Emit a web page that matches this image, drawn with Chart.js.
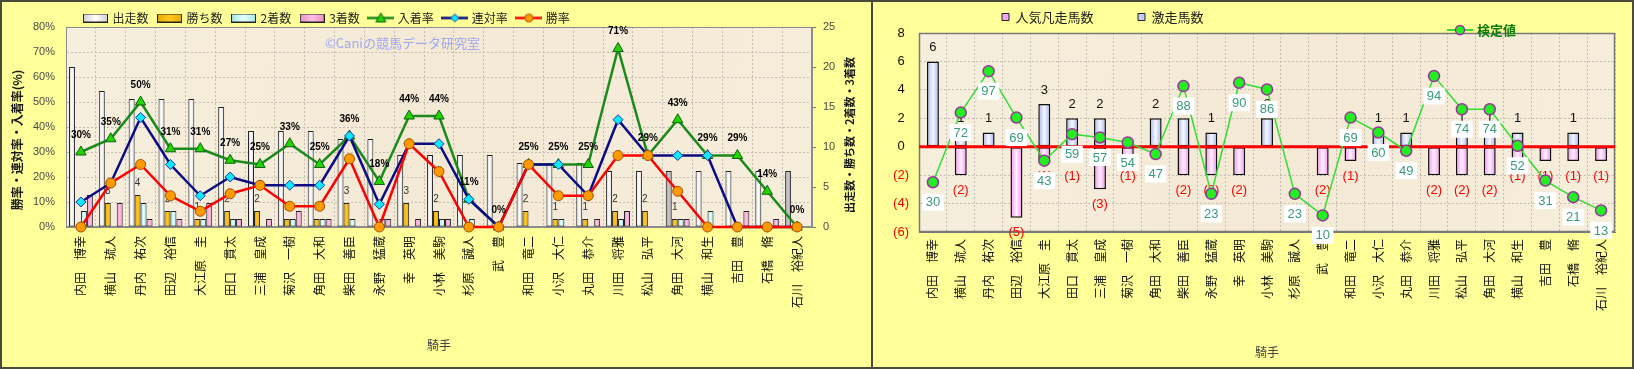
<!DOCTYPE html>
<html lang="ja">
<head>
<meta charset="utf-8">
<title>騎手成績</title>
<script src="https://cdn.jsdelivr.net/npm/chart.js@4.4.1/dist/chart.umd.min.js"></script>
<style>
  html, body { margin:0; padding:0; width:1634px; height:369px; overflow:hidden; background:#ffffff; }
  .panel { position:absolute; top:0; height:369px; box-sizing:border-box; background:#FFFF99; border:2px solid #4a4a3a; }
  #bg1 { left:0; width:874px; }
  #bg2 { left:871px; width:763px; }
  canvas { position:absolute; top:0; }
  #c1 { left:0; }
  #c2 { left:872px; }
</style>
</head>
<body>
<div class="panel" id="bg1"></div>
<div class="panel" id="bg2"></div>
<canvas id="c1" width="872" height="369"></canvas>
<canvas id="c2" width="762" height="369"></canvas>
<script>
// ---------------- DATA ----------------
const jockeys = ['内田　博幸','横山　琉人','丹内　祐次','田辺　裕信','大江原　圭','田口　貫太','三浦　皇成','菊沢　一樹','角田　大和','柴田　善臣','永野　猛蔵','幸　英明','小林　美駒','杉原　誠人','武　豊','和田　竜二','小沢　大仁','丸田　恭介','川田　将雅','松山　弘平','角田　大河','横山　和生','吉田　豊','石橋　脩','石川　裕紀人'];
const starts   = [20,17,16,16,16,15,12,12,12,11,11,9,9,9,9,8,8,8,7,7,7,7,7,7,7];
const wins     = [0,3,4,2,1,2,2,1,1,3,0,3,2,0,0,2,1,1,2,2,1,0,0,0,0];
const seconds  = [2,0,3,2,1,1,0,1,1,1,1,0,1,1,0,0,1,0,1,0,1,2,0,0,0];
const thirds   = [4,3,1,1,3,1,1,2,1,0,1,1,1,0,0,0,0,1,2,0,1,0,2,1,0];
const placeRate    = [30,35.3,50,31.3,31.3,26.7,25,33.3,25,36.4,18.2,44.4,44.4,11.1,0,25,25,25,71.4,28.6,42.9,28.6,28.6,14.3,0];
const quinellaRate = [10,17.6,43.8,25,12.5,20,16.7,16.7,16.7,36.4,9.1,33.3,33.3,11.1,0,25,25,12.5,42.9,28.6,28.6,28.6,0,0,0];
const winRate      = [0,17.6,25,12.5,6.3,13.3,16.7,8.3,8.3,27.3,0,33.3,22.2,0,0,25,12.5,12.5,28.6,28.6,14.3,0,0,0,0];
const placeLabels  = ['30%','35%','50%','31%','31%','27%','25%','33%','25%','36%','18%','44%','44%','11%','0%','25%','25%','25%','71%','29%','43%','29%','29%','14%','0%'];
const rateTicks  = ['0%','10%','20%','30%','40%','50%','60%','70%','80%'];
const countTicks = ['0','5','10','15','20','25'];

const hotRuns   = [6,1,1,0,3,2,2,0,2,2,1,0,2,0,0,0,1,1,0,1,1,1,0,1,0];
const favFlops  = [0,-2,0,-5,-1,-1,-3,-1,0,-2,-2,-2,0,0,-2,-1,0,0,-2,-2,-2,-1,-1,-1,-1];
const testValue = [30,72,97,69,43,59,57,54,47,88,23,90,86,23,10,69,60,49,94,74,74,52,31,21,13];
const diffTicks = ['(6)','(4)','(2)','0','2','4','6','8'];

// ---------------- STYLE ----------------
const LATIN = "'Liberation Sans', Arial, 'Noto Sans CJK JP', sans-serif";
const JP = "'Noto Sans CJK JP', 'Noto Sans CJK SC', sans-serif";
const GRID = '#c4beb4';
const grayStartIdx = [20, 24];

function icon(w, h, draw) { const c = document.createElement('canvas'); c.width = w; c.height = h; draw(c.getContext('2d'), w, h); return c; }
function barIcon(edge, mid) {
  return icon(25, 9, (g, w, h) => {
    const gr = g.createLinearGradient(0, 0, w, 0);
    gr.addColorStop(0, edge); gr.addColorStop(0.5, mid); gr.addColorStop(1, edge);
    g.fillStyle = gr; g.fillRect(0.5, 0.5, w - 1, h - 1);
    g.strokeStyle = '#222'; g.lineWidth = 1; g.strokeRect(0.5, 0.5, w - 1, h - 1);
  });
}
function lineIcon(color, marker) {
  return icon(27, 13, (g, w, h) => {
    g.strokeStyle = color; g.lineWidth = 2.5; g.beginPath(); g.moveTo(0, h / 2); g.lineTo(w, h / 2); g.stroke();
    marker(g, w / 2, h / 2);
  });
}
const triMark = (g, x, y) => { g.beginPath(); g.moveTo(x, y - 5); g.lineTo(x + 5, y + 4); g.lineTo(x - 5, y + 4); g.closePath(); g.fillStyle = '#22D400'; g.fill(); g.strokeStyle = '#0f5f0f'; g.lineWidth = 1; g.stroke(); };
const diaMark = (g, x, y) => { g.beginPath(); g.moveTo(x, y - 4); g.lineTo(x + 4, y); g.lineTo(x, y + 4); g.lineTo(x - 4, y); g.closePath(); g.fillStyle = '#10E8FF'; g.fill(); g.strokeStyle = '#1a3a9a'; g.lineWidth = 1; g.stroke(); };
const cirMark = (g, x, y) => { g.beginPath(); g.arc(x, y, 4, 0, Math.PI * 2); g.fillStyle = '#FF9A00'; g.fill(); g.strokeStyle = '#A34F00'; g.lineWidth = 1; g.stroke(); };

const icons1 = [
  barIcon('#cfcfcf', '#ffffff'),
  barIcon('#E8AA00', '#FFC820'),
  barIcon('#A8E8E8', '#E4FFFF'),
  barIcon('#E890C4', '#FFC0E4'),
  lineIcon('#1B8A1B', triMark),
  lineIcon('#0B0B84', diaMark),
  lineIcon('#FF0000', cirMark)
];

function gradFill(edge, mid, kind, altEdge, altMid) {
  return (c) => {
    const isAlt = altEdge && c.type === 'data' && grayStartIdx.includes(c.dataIndex);
    const e = isAlt ? altEdge : edge, m = isAlt ? altMid : mid;
    if (c.type !== 'data') return m;
    const ch = c.chart, xs = ch.scales.x;
    if (!xs || !ch.chartArea) return m;
    const n = ch.data.labels.length;
    const cat = xs.width / n;
    const cx = xs.getPixelForValue(c.dataIndex);
    let x0, w;
    if (kind === 'group') { w = cat * 0.8 / 4; x0 = cx - 2 * w + c.datasetIndex * w; }
    else { w = cat * 0.43; x0 = cx - w / 2; }
    const g = ch.ctx.createLinearGradient(x0, 0, x0 + w, 0);
    g.addColorStop(0, e); g.addColorStop(0.5, m); g.addColorStop(1, e);
    return g;
  };
}

// ---------------- PLUGINS ----------------
const legendPos = {
  id: 'legendPos',
  afterLayout(chart, args, opts) {
    const lg = chart.legend; if (!lg) return;
    const pad = lg.options.labels.padding;
    lg.left = opts.x - pad; lg.right = lg.left + 2000;
    lg.top = opts.y - pad - opts.fs / 2; lg.bottom = opts.y + 20;
  }
};
const plotBg = {
  id: 'plotBg',
  beforeDraw(chart, args, opts) {
    const { ctx, chartArea: a } = chart;
    ctx.save();
    const g = ctx.createLinearGradient(a.left, a.top, a.right, a.bottom);
    g.addColorStop(0, '#F7EFDE'); g.addColorStop(0.5, '#F3E9D5'); g.addColorStop(1, '#F6EDDB');
    ctx.fillStyle = g;
    ctx.fillRect(a.left, a.top, a.width, a.height);
    ctx.restore();
  },
  beforeDatasetsDraw(chart, args, opts) {
    const { ctx, chartArea: a } = chart;
    ctx.save();
    ctx.strokeStyle = opts.frame || '#8c8c8c'; ctx.lineWidth = opts.frameWidth || 1;
    ctx.strokeRect(a.left + 0.5, a.top + 0.5, a.width - 1, a.height - 1);
    if (opts.watermark) {
      ctx.font = '13px ' + JP; ctx.fillStyle = '#9DA8F5'; ctx.textAlign = 'left'; ctx.textBaseline = 'middle';
      ctx.fillText(opts.watermark, 325, 43);
    }
    ctx.restore();
  }
};
const leftLabels = {
  id: 'leftLabels',
  afterDatasetDraw(chart, args) {
    if (args.index !== 0) return;
    const ctx = chart.ctx; const meta = chart.getDatasetMeta(1);
    ctx.save(); ctx.font = '10px ' + LATIN; ctx.fillStyle = '#333'; ctx.textAlign = 'center'; ctx.textBaseline = 'middle';
    meta.data.forEach((el, i) => { if (wins[i] > 0) ctx.fillText(String(wins[i]), el.x, el.y - 12); });
    ctx.restore();
  },
  afterDatasetsDraw(chart) {
    const ctx = chart.ctx; const meta = chart.getDatasetMeta(4);
    ctx.save(); ctx.font = 'bold 10px ' + LATIN; ctx.fillStyle = '#000'; ctx.textAlign = 'center'; ctx.textBaseline = 'middle';
    meta.data.forEach((el, i) => ctx.fillText(placeLabels[i], el.x, el.y - 17));
    ctx.restore();
  },
  afterDraw(chart) {
    const ctx = chart.ctx;
    ctx.save(); ctx.textAlign = 'center'; ctx.textBaseline = 'middle'; ctx.fillStyle = '#1a1a1a';
    ctx.font = 'bold 12px ' + JP;
    ctx.translate(17, 140); ctx.rotate(-Math.PI / 2); ctx.fillText('勝率・連対率・入着率(%)', 0, 0);
    ctx.restore();
    ctx.save(); ctx.textAlign = 'center'; ctx.textBaseline = 'middle'; ctx.fillStyle = '#1a1a1a';
    ctx.font = 'bold 11px ' + JP;
    ctx.translate(850, 135); ctx.rotate(-Math.PI / 2); ctx.fillText('出走数・勝ち数・2着数・3着数', 0, 0);
    ctx.restore();
  }
};
const rightLabels = {
  id: 'rightLabels',
  afterDatasetDraw(chart, args) {
    if (args.index !== 0) return;
    const { ctx, chartArea: a, scales } = chart;
    const y0 = scales.y.getPixelForValue(0);
    ctx.save();
    ctx.strokeStyle = '#FF0000'; ctx.lineWidth = 3;
    ctx.beginPath(); ctx.moveTo(a.left, y0); ctx.lineTo(a.right, y0); ctx.stroke();
    ctx.font = '13px ' + LATIN; ctx.textAlign = 'center'; ctx.textBaseline = 'middle';
    const mPos = chart.getDatasetMeta(1), mNeg = chart.getDatasetMeta(0);
    ctx.fillStyle = '#111';
    mPos.data.forEach((el, i) => { if (hotRuns[i] > 0) ctx.fillText(String(hotRuns[i]), el.x, el.y - 14); });
    ctx.fillStyle = '#FF0000';
    mNeg.data.forEach((el, i) => { if (favFlops[i] < 0) ctx.fillText('(' + (-favFlops[i]) + ')', el.x, el.y + 15); });
    ctx.restore();
  },
  afterDatasetsDraw(chart) {
    const ctx = chart.ctx; const m = chart.getDatasetMeta(2);
    ctx.save(); ctx.font = '13px ' + LATIN; ctx.textAlign = 'center'; ctx.textBaseline = 'middle';
    m.data.forEach((el, i) => {
      const t = String(testValue[i]); const w = ctx.measureText(t).width + 7; const cy = el.y + 20;
      ctx.fillStyle = '#ffffff'; ctx.fillRect(el.x - w / 2, cy - 8.5, w, 17);
      ctx.fillStyle = '#3A9A7C'; ctx.fillText(t, el.x, cy + 0.5);
    });
    // legend item for the line series
    ctx.strokeStyle = '#33DD33'; ctx.lineWidth = 2;
    ctx.beginPath(); ctx.moveTo(575, 30); ctx.lineTo(601, 30); ctx.stroke();
    ctx.beginPath(); ctx.arc(588, 30, 4.5, 0, Math.PI * 2); ctx.fillStyle = '#22EE22'; ctx.fill();
    ctx.strokeStyle = '#993399'; ctx.lineWidth = 1.5; ctx.stroke();
    ctx.font = '600 13px ' + JP; ctx.fillStyle = '#0A7A0A'; ctx.textAlign = 'left';
    ctx.fillText(chart.data.datasets[2].label, 605, 30);
    ctx.restore();
  }
};

// ---------------- LEFT CHART ----------------
new Chart(document.getElementById('c1'), {
  type: 'bar',
  data: {
    labels: jockeys,
    datasets: [
      { label: '出走数', data: starts, yAxisID: 'yR', order: 3, backgroundColor: gradFill('#cfcfcf', '#ffffff', 'group', '#8e8e8e', '#cdcdcd'), borderColor: '#222', borderWidth: 1, borderSkipped: false },
      { label: '勝ち数', data: wins, yAxisID: 'yR', order: 3, backgroundColor: gradFill('#E0A400', '#FFC820', 'group'), borderColor: '#222', borderWidth: 1, borderSkipped: false },
      { label: '2着数', data: seconds, yAxisID: 'yR', order: 3, backgroundColor: gradFill('#A8E4E8', '#E4FFFF', 'group'), borderColor: '#222', borderWidth: 1, borderSkipped: false },
      { label: '3着数', data: thirds, yAxisID: 'yR', order: 3, backgroundColor: gradFill('#E48CC0', '#FFC4E6', 'group'), borderColor: '#222', borderWidth: 1, borderSkipped: false },
      { type: 'line', label: '入着率', data: placeRate, yAxisID: 'yL', order: 2, clip: false, borderColor: '#1B8A1B', borderWidth: 2.5, pointStyle: 'triangle', pointRadius: 6, pointBackgroundColor: '#22D400', pointBorderColor: '#0f5f0f', pointBorderWidth: 1 },
      { type: 'line', label: '連対率', data: quinellaRate, yAxisID: 'yL', order: 1, clip: false, borderColor: '#0B0B84', borderWidth: 2.5, pointStyle: 'rectRot', pointRadius: 5, pointBackgroundColor: '#10E8FF', pointBorderColor: '#1a3a9a', pointBorderWidth: 1 },
      { type: 'line', label: '勝率', data: winRate, yAxisID: 'yL', order: 0, clip: false, borderColor: '#FF0000', borderWidth: 2.5, pointStyle: 'circle', pointRadius: 5, pointBackgroundColor: '#FF9A00', pointBorderColor: '#A34F00', pointBorderWidth: 1 }
    ]
  },
  plugins: [legendPos, plotBg, leftLabels],
  options: {
    responsive: false, animation: false, events: [],
    layout: { padding: 0 },
    datasets: { bar: { categoryPercentage: 0.8, barPercentage: 1.0 } },
    scales: {
      x: {
        grid: { offset: true, color: GRID, drawTicks: false },
        border: { display: true, color: '#8c8c8c', dash: [2, 2] },
        ticks: { autoSkip: false, maxRotation: 90, minRotation: 90, padding: 9, color: '#111', font: { family: JP, size: 12 } },
        title: { display: true, text: '騎手', color: '#444', font: { family: JP, size: 12 }, padding: { top: 0, bottom: 16 } },
        afterFit(s) { s.height = 142; }
      },
      yL: {
        position: 'left', min: 0, max: 80,
        ticks: { stepSize: 10, callback: (v, i) => rateTicks[i], padding: 11, color: '#4a4a4a', font: { family: LATIN, size: 11 } },
        grid: { color: GRID, drawTicks: false },
        border: { display: true, color: '#8c8c8c', dash: [2, 2] },
        afterFit(s) { s.width = 66; }
      },
      yR: {
        position: 'right', min: 0, max: 25,
        ticks: { stepSize: 5, callback: (v, i) => countTicks[i], padding: 7, color: '#4a4a4a', font: { family: LATIN, size: 11 } },
        grid: { drawOnChartArea: false, drawTicks: true, tickLength: 4, tickColor: '#777' },
        border: { display: true, color: '#8c8c8c' },
        afterFit(s) { s.width = 60; }
      }
    },
    plugins: {
      tooltip: { enabled: false },
      legend: {
        position: 'top', align: 'start', maxHeight: 27,
        labels: {
          usePointStyle: true, pointStyleWidth: 22, padding: 10, color: '#222',
          font: { family: JP, size: 12 },
          generateLabels: (chart) => chart.data.datasets.map((ds, i) => ({ text: ds.label, datasetIndex: i, pointStyle: icons1[i], hidden: false, lineWidth: 0, fontColor: '#222', strokeStyle: 'rgba(0,0,0,0)', fillStyle: 'rgba(0,0,0,0)' }))
        }
      },
      legendPos: { x: 84.5, y: 18, fs: 12 },
      plotBg: { frame: '#8c8c8c', frameWidth: 1, watermark: '©Caniの競馬データ研究室' }
    }
  }
});

// ---------------- RIGHT CHART ----------------
new Chart(document.getElementById('c2'), {
  type: 'bar',
  data: {
    labels: jockeys,
    datasets: [
      { label: '人気凡走馬数', data: favFlops, order: 2, backgroundColor: gradFill('#EE8EEE', '#FFF0FF', 'single'), borderColor: '#111', borderWidth: 1.5, borderSkipped: false },
      { label: '激走馬数', data: hotRuns, order: 2, backgroundColor: gradFill('#A4B0F2', '#F6F8FF', 'single'), borderColor: '#111', borderWidth: 1.5, borderSkipped: false },
      { type: 'line', label: '検定値', data: testValue, yAxisID: 'y2', order: 1, clip: false, borderColor: '#33DD33', borderWidth: 1.5, pointRadius: 5.5, pointBackgroundColor: '#22EE22', pointBorderColor: '#993399', pointBorderWidth: 1.5 }
    ]
  },
  plugins: [legendPos, plotBg, rightLabels],
  options: {
    responsive: false, animation: false, events: [],
    layout: { padding: { left: 0, top: 0, bottom: 0, right: 19 } },
    datasets: { bar: { categoryPercentage: 1, barPercentage: 0.43 } },
    scales: {
      x: {
        stacked: true,
        grid: { offset: true, color: GRID, drawTicks: false },
        border: { display: true, color: '#7a7a7a', dash: [2, 2] },
        ticks: { autoSkip: false, maxRotation: 90, minRotation: 90, padding: 7, color: '#111', font: { family: JP, size: 12 } },
        title: { display: true, text: '騎手', color: '#444', font: { family: JP, size: 12 }, padding: { top: 0, bottom: 9 } },
        afterFit(s) { s.height = 137; }
      },
      y: {
        stacked: true, min: -6, max: 8,
        ticks: { stepSize: 2, callback: (v, i) => diffTicks[i], color: (c) => (c.tick && c.tick.value < 0 ? '#FF0000' : '#111'), font: { family: LATIN, size: 13 }, crossAlign: 'center', padding: 10 },
        grid: { color: GRID, drawTicks: false },
        border: { display: true, color: '#7a7a7a', dash: [2, 2] },
        afterFit(s) { s.width = 47; }
      },
      y2: { display: false, min: 0, max: 120 }
    },
    plugins: {
      tooltip: { enabled: false },
      legend: {
        position: 'top', align: 'start', maxHeight: 33,
        labels: {
          boxWidth: 7, boxHeight: 7, padding: 44.5, color: '#222',
          font: { family: JP, size: 13 },
          generateLabels: (chart) => [
            { text: chart.data.datasets[0].label, datasetIndex: 0, hidden: false, fillStyle: '#F4A6F4', strokeStyle: '#222', lineWidth: 1, fontColor: '#222' },
            { text: chart.data.datasets[1].label, datasetIndex: 1, hidden: false, fillStyle: '#C4CCF8', strokeStyle: '#222', lineWidth: 1, fontColor: '#222' }
          ]
        }
      },
      legendPos: { x: 130, y: 17, fs: 13 },
      plotBg: { frame: '#7a7a7a', frameWidth: 1.5 }
    }
  }
});
</script>
</body>
</html>
